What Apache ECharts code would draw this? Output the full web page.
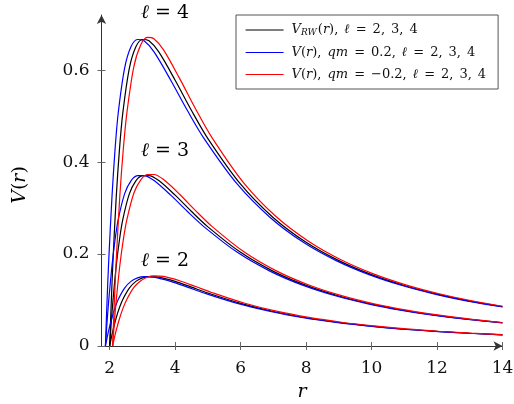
<!DOCTYPE html>
<html><head><meta charset="utf-8">
<script src="https://cdn.jsdelivr.net/npm/echarts@6/dist/echarts.min.js"></script>
<style>html,body{margin:0;padding:0;background:#fff}#c{width:514px;height:404px}</style>
</head><body><div id="c"></div>
<script>
// r positions
const rBlack = [2.0, 2.05, 2.1, 2.2, 2.3, 2.4, 2.6, 2.8, 3.0, 3.2, 3.5, 4, 4.5, 5, 6, 7, 8, 9, 10, 11, 12, 13, 14];
const rBlue  = [1.87, 1.92, 1.97, 2.07, 2.165, 2.26, 2.455, 2.65, 2.85, 3.05, 3.355, 3.865, 4.375, 4.885, 5.9, 6.91, 7.915, 8.92, 9.925, 10.93, 11.935, 12.94, 14];
const rRed   = [2.09, 2.145, 2.2, 2.31, 2.42, 2.53, 2.74, 2.95, 3.15, 3.35, 3.645, 4.135, 4.625, 5.115, 6.1, 7.09, 8.085, 9.08, 10.075, 11.07, 12.065, 13.06, 14];
// V_RW
const vBlack2 = [0, 0.0178, 0.0339, 0.0615, 0.0836, 0.1013, 0.1261, 0.1406, 0.1482, 0.1511, 0.1499, 0.1406, 0.1280, 0.1152, 0.0926, 0.0750, 0.0615, 0.0512, 0.0432, 0.0369, 0.0318, 0.0277, 0.0244];
const vBlack3 = [0, 0.0527, 0.0987, 0.1742, 0.2316, 0.2749, 0.3309, 0.3592, 0.3704, 0.3708, 0.3599, 0.3281, 0.2926, 0.2592, 0.2037, 0.1624, 0.1318, 0.1088, 0.0912, 0.0775, 0.0666, 0.0578, 0.0506];
const vBlack4 = [0, 0.0991, 0.1851, 0.3244, 0.4288, 0.5064, 0.6040, 0.6508, 0.6667, 0.6638, 0.6397, 0.5781, 0.5121, 0.4512, 0.3519, 0.2791, 0.2256, 0.1857, 0.1552, 0.1316, 0.1129, 0.0978, 0.0856];
// qm = 0.2
const vBlue2 = [0, 0.0178, 0.0339, 0.0615, 0.0836, 0.1013, 0.1261, 0.1406, 0.1482, 0.1511, 0.1499, 0.1406, 0.1280, 0.1152, 0.0926, 0.0750, 0.0615, 0.0512, 0.0432, 0.0369, 0.0318, 0.0277, 0.0241];
const vBlue3 = [0, 0.0527, 0.0987, 0.1742, 0.2316, 0.2749, 0.3309, 0.3592, 0.3704, 0.3708, 0.3599, 0.3281, 0.2926, 0.2592, 0.2037, 0.1624, 0.1318, 0.1088, 0.0912, 0.0775, 0.0666, 0.0578, 0.0501];
const vBlue4 = [0, 0.0991, 0.1851, 0.3244, 0.4288, 0.5064, 0.6040, 0.6508, 0.6667, 0.6638, 0.6397, 0.5781, 0.5121, 0.4512, 0.3519, 0.2791, 0.2256, 0.1857, 0.1552, 0.1316, 0.1129, 0.0978, 0.0848];
// qm = -0.2
const vRed2 = [0, 0.0180, 0.0343, 0.0621, 0.0845, 0.1023, 0.1273, 0.1420, 0.1496, 0.1526, 0.1514, 0.1420, 0.1293, 0.1164, 0.0935, 0.0757, 0.0621, 0.0517, 0.0436, 0.0372, 0.0321, 0.0280, 0.0248];
const vRed3 = [0, 0.0530, 0.0993, 0.1752, 0.2329, 0.2765, 0.3329, 0.3614, 0.3726, 0.3730, 0.3620, 0.3301, 0.2944, 0.2608, 0.2049, 0.1634, 0.1326, 0.1095, 0.0917, 0.0779, 0.0670, 0.0581, 0.0511];
const vRed4 = [0, 0.0998, 0.1864, 0.3267, 0.4318, 0.5099, 0.6082, 0.6553, 0.6713, 0.6684, 0.6442, 0.5822, 0.5157, 0.4544, 0.3543, 0.2810, 0.2272, 0.1869, 0.1563, 0.1325, 0.1136, 0.0985, 0.0864];

const xTicks = [2, 4, 6, 8, 10, 12, 14];
const yTicks = [0, 0.2, 0.4, 0.6];

const FONT = "'DejaVu Serif', 'Liberation Serif', serif";
const AX = '#333';
const TK = '#666';
const TXT = '#111';

function mk(name, color, xs, ys) {
  return {
    type: 'line', name, xAxisIndex: 0, yAxisIndex: 0,
    data: xs.map((x, i) => [x, ys[i]]),
    symbol: 'none', showSymbol: false, smooth: 0.3,
    lineStyle: { color, width: 1.2 }, itemStyle: { color },
    clip: true, animation: false
  };
}

const legendItems = [
  { name: 'RW', text: '{i|V}{sub|RW}{n|(}{i|r}{n|)}{c|,}{i|ℓ}{e|=}{n|2}{c|,}{n|3}{c|,}{n|4}' },
  { name: 'QP', text: '{i|V}{n|(}{i|r}{n|)}{c|,}{i|qm}{e|=}{n|0.2}{c|,}{i|ℓ}{e|=}{n|2}{c|,}{n|3}{c|,}{n|4}' },
  { name: 'QN', text: '{i|V}{n|(}{i|r}{n|)}{c|,}{i|qm}{e|=}{n|−0.2}{c|,}{i|ℓ}{e|=}{n|2}{c|,}{n|3}{c|,}{n|4}' }
];

const LF = 13;
const legendRich = {
  i: { fontFamily: FONT, fontSize: LF, fontStyle: 'italic', color: TXT, lineHeight: 14 },
  n: { fontFamily: FONT, fontSize: LF, color: TXT, lineHeight: 14 },
  c: { fontFamily: FONT, fontSize: LF, color: TXT, lineHeight: 14, padding: [0, 6, 0, 0] },
  e: { fontFamily: FONT, fontSize: LF, color: TXT, lineHeight: 14, padding: [0, 6, 0, 6] },
  sub: { fontFamily: FONT, fontSize: 9, fontStyle: 'italic', color: TXT, lineHeight: 10, padding: [5, 1, 0, 0], verticalAlign: 'bottom' }
};

const tickRich = { t: { fontFamily: FONT, fontSize: 17, color: TXT } };

function xAx(inside, gi) {
  return {
    type: 'value', gridIndex: gi, min: 1.75, max: 14, position: 'bottom',
    axisLine: { show: !inside, lineStyle: { color: AX, width: 1 }, symbol: ['none', 'arrow'], symbolSize: [7, 9] },
    axisTick: { show: true, inside, length: 4, lineStyle: { color: TK, width: 1 }, customValues: xTicks },
    axisLabel: { show: !inside, margin: 14, customValues: xTicks, rich: tickRich,
      formatter: v => '{t|' + v + '}' },
    splitLine: { show: false }
  };
}
function yAx(inside, gi) {
  return {
    type: 'value', gridIndex: gi, min: 0, max: 0.72, position: 'left',
    axisLine: { show: !inside, lineStyle: { color: AX, width: 1 }, symbol: ['none', 'arrow'], symbolSize: [7, 9] },
    axisTick: { show: true, inside, length: 4, lineStyle: { color: TK, width: 1 }, customValues: yTicks },
    axisLabel: { show: !inside, margin: 12, customValues: yTicks, rich: tickRich,
      formatter: v => '{t|' + (v === 0 ? '0' : String(+v.toFixed(1))) + '}' },
    splitLine: { show: false }
  };
}

const gridBox = { left: 101.5, top: 15, width: 401, height: 331, outerBoundsMode: 'none', containLabel: false };
const bigRich = {
  i: { fontStyle: 'italic', fontFamily: FONT, fontSize: 19, color: TXT },
  n: { fontFamily: FONT, fontSize: 19, color: TXT }
};

const chart = echarts.init(document.getElementById('c'), null, { renderer: 'canvas' });
chart.setOption({
  backgroundColor: '#fff',
  animation: false,
  textStyle: { fontFamily: FONT },
  grid: [Object.assign({}, gridBox), Object.assign({}, gridBox)],
  xAxis: [xAx(false, 0), xAx(true, 1)],
  yAxis: [yAx(false, 0), yAx(true, 1)],
  legend: {
    data: legendItems.map(d => d.name),
    orient: 'vertical', left: 236, top: 15,
    padding: [8, 12, 8, 9], itemGap: 9,
    backgroundColor: '#fff', borderColor: '#555', borderWidth: 1, borderRadius: 0,
    itemWidth: 38, itemHeight: 14,
    itemStyle: { opacity: 0, borderWidth: 0 },
    lineStyle: { width: 1.2 },
    selectedMode: false,
    formatter: n => legendItems.find(d => d.name === n).text,
    textStyle: { fontFamily: FONT, fontSize: LF, color: TXT, padding: [0, 0, 0, 3], rich: legendRich }
  },
  graphic: [
    { type: 'text', left: 141, top: 4, style: { text: '{i|ℓ}{n| = 4}', rich: bigRich } },
    { type: 'text', left: 141, top: 142, style: { text: '{i|ℓ}{n| = 3}', rich: bigRich } },
    { type: 'text', left: 141, top: 252, style: { text: '{i|ℓ}{n| = 2}', rich: bigRich } },
    { type: 'text', x: 20, y: 185, rotation: Math.PI / 2,
      style: { text: '{i|V}{n|(}{i|r}{n|)}', align: 'center', verticalAlign: 'middle',
        rich: { i: { fontStyle: 'italic', fontFamily: FONT, fontSize: 19, color: TXT }, n: { fontFamily: FONT, fontSize: 19, color: TXT } } } },
    { type: 'text', x: 302, y: 392, style: { text: '{i|r}', align: 'center', verticalAlign: 'middle',
        rich: { i: { fontStyle: 'italic', fontFamily: FONT, fontSize: 19, color: TXT } } } }
  ],
  series: [
    mk('RW', '#000000', rBlack, vBlack2), mk('RW', '#000000', rBlack, vBlack3), mk('RW', '#000000', rBlack, vBlack4),
    mk('QP', '#0000ff', rBlue, vBlue2), mk('QP', '#0000ff', rBlue, vBlue3), mk('QP', '#0000ff', rBlue, vBlue4),
    mk('QN', '#ff0000', rRed, vRed2), mk('QN', '#ff0000', rRed, vRed3), mk('QN', '#ff0000', rRed, vRed4)
  ]
});
</script></body></html>
